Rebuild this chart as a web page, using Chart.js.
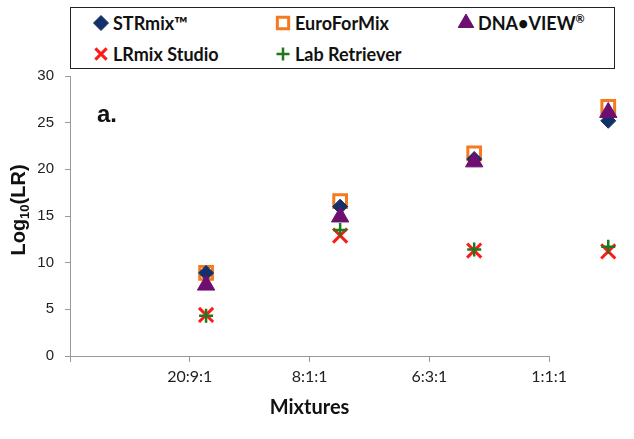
<!DOCTYPE html>
<html>
<head>
<meta charset="utf-8">
<script src="https://cdn.jsdelivr.net/npm/chart.js@4"></script>
<style>
    html, body { margin: 0; padding: 0; background: #fff; }
    #wrap { position: relative; width: 634px; height: 439px; }
    #legend {
        position: absolute; left: 70px; top: 7px; width: 545px; height: 62px;
        box-sizing: border-box; border: 1.5px solid #222; background: #fff;
        font-family: Lato, "Liberation Sans", sans-serif; font-weight: bold; font-size: 18px; color: #111;
    }
    .item { position: absolute; white-space: nowrap; }
    .item canvas { position: absolute; left: -10px; top: -10px; }
    .item span { position: absolute; left: 12px; top: -12px; line-height: 24px; }
    sup { font-size: 11px; vertical-align: 7px; line-height: 0; }
</style>
</head>
<body>
<div id="wrap">
    <canvas id="chart" width="634" height="439"></canvas>
    <div id="legend"></div>
</div>
<script>
// Chart data
const categories = ['20:9:1', '8:1:1', '6:3:1', '1:1:1'];
const strmix = [8.9, 16.0, 21.1, 25.2];
const euroForMix = [8.9, 16.6, 21.7, 26.7];
const dnaView = [7.6, 14.9, 20.8, 26.1];
const lrmixStudio = [4.4, 12.9, 11.3, 11.2];
const labRetriever = [4.3, 13.5, 11.4, 11.7];
const yTicks = [0, 5, 10, 15, 20, 25, 30];

// Series look (order: lower is drawn on top)
const series = [
    { label: 'STRmix\u2122', data: strmix, style: 'rectRot', color: '#14306a', fill: '#14306a', radius: 7.5, width: 1, order: 4, col: 0, row: 0, lr: 7.5 },
    { label: 'EuroForMix', data: euroForMix, style: 'rect', color: '#f57a1f', fill: '#ffffff', radius: 9, width: 3, order: 5, col: 1, row: 0, lr: 8 },
    { label: 'DNA\u2022VIEW', sup: '\u00ae', data: dnaView, style: 'triangle', color: '#6c0f70', fill: '#6c0f70', radius: 10, width: 1, order: 3, col: 2, row: 0, lr: 9 },
    { label: 'LRmix Studio', data: lrmixStudio, style: 'crossRot', color: '#ff1a1a', fill: '#ff1a1a', radius: 10, width: 3, order: 2, col: 0, row: 1, lr: 8 },
    { label: 'Lab Retriever', data: labRetriever, style: 'cross', color: '#1c7a1c', fill: '#1c7a1c', radius: 7, width: 2.5, order: 1, col: 1, row: 1, lr: 6.5 }
];

const legendCols = [30, 212, 395];
const legendRows = [15, 46];

function buildDatasets() {
    return series.map(s => ({
        label: s.label,
        data: s.data.map((v, i) => ({ x: i + 1, y: v })),
        xAxisID: 'xd',
        pointStyle: s.style,
        pointRadius: s.radius,
        pointHoverRadius: s.radius,
        pointBorderWidth: s.width,
        pointBorderColor: s.color,
        pointBackgroundColor: s.fill,
        order: s.order,
        clip: false
    }));
}

// Axis line, axis titles and panel tag
const extrasPlugin = {
    id: 'extras',
    afterDraw(chart) {
        const ctx = chart.ctx;
        const x = chart.scales.x;
        const area = chart.chartArea;
        const x0 = x.getPixelForValue(0);
        const x1 = x.getPixelForValue(categories.length);
        ctx.save();
        ctx.strokeStyle = '#999';
        ctx.lineWidth = 1;
        ctx.beginPath();
        ctx.moveTo(x0, area.bottom + 0.5);
        ctx.lineTo(x1, area.bottom + 0.5);
        ctx.stroke();

        // x title
        ctx.fillStyle = '#111';
        ctx.font = 'bold 20px Lato, "Liberation Sans", sans-serif';
        ctx.textAlign = 'center';
        ctx.textBaseline = 'middle';
        ctx.fillText('Mixtures', (x0 + x1) / 2, 408);

        // y title with subscript
        ctx.translate(18, 210);
        ctx.rotate(-Math.PI / 2);
        const big = 'bold 20px "Liberation Sans", Arial, sans-serif';
        const small = 'bold 13px "Liberation Sans", Arial, sans-serif';
        ctx.textAlign = 'left';
        ctx.textBaseline = 'alphabetic';
        ctx.font = big;
        const w1 = ctx.measureText('Log').width;
        const w3 = ctx.measureText('(LR)').width;
        ctx.font = small;
        const w2 = ctx.measureText('10').width;
        let px = -(w1 + w2 + w3) / 2;
        ctx.font = big;
        ctx.fillText('Log', px, 7);
        px += w1;
        ctx.font = small;
        ctx.fillText('10', px, 11);
        px += w2;
        ctx.font = big;
        ctx.fillText('(LR)', px, 7);
        ctx.restore();

        // panel tag
        ctx.save();
        ctx.fillStyle = '#111';
        ctx.font = 'bold 24px "Liberation Sans", Arial, sans-serif';
        ctx.textAlign = 'left';
        ctx.textBaseline = 'alphabetic';
        ctx.fillText('a.', area.left + 27, area.top + 46);
        ctx.restore();
    }
};

function buildLegend() {
    const box = document.getElementById('legend');
    series.forEach(s => {
        const item = document.createElement('div');
        item.className = 'item';
        item.style.left = legendCols[s.col] + 'px';
        item.style.top = legendRows[s.row] + 'px';
        const c = document.createElement('canvas');
        c.width = 20;
        c.height = 20;
        const cx = c.getContext('2d');
        cx.fillStyle = s.fill;
        cx.strokeStyle = s.color;
        cx.lineWidth = s.width;
        Chart.helpers.drawPoint(cx, { pointStyle: s.style, radius: s.lr, borderWidth: s.width, rotation: 0 }, 10, 10);
        const t = document.createElement('span');
        t.textContent = s.label;
        if (s.sup) {
            const sp = document.createElement('sup');
            sp.textContent = s.sup;
            t.appendChild(sp);
        }
        item.appendChild(c);
        item.appendChild(t);
        box.appendChild(item);
    });
}

function initializeChart() {
    new Chart(document.getElementById('chart'), {
        type: 'scatter',
        data: { datasets: buildDatasets() },
        plugins: [extrasPlugin],
        options: {
            responsive: false,
            animation: false,
            layout: { padding: { top: 76, right: 9, left: 0, bottom: 0 } },
            plugins: {
                legend: { display: false },
                tooltip: { enabled: false }
            },
            scales: {
                xd: {
                    type: 'linear',
                    position: 'bottom',
                    display: false,
                    min: -0.015,
                    max: 4.095
                },
                x: {
                    type: 'linear',
                    position: 'bottom',
                    min: 0,
                    max: 4.6,
                    afterBuildTicks: scale => {
                        scale.ticks = [0, 1, 2, 3, 4].map(v => ({ value: v }));
                    },
                    afterFit: scale => { scale.height = 83; },
                    border: { display: false },
                    grid: { drawOnChartArea: false, drawTicks: true, tickLength: 6, color: '#999' },
                    ticks: {
                        padding: 5,
                        maxRotation: 0,
                        autoSkip: false,
                        color: '#222',
                        font: { family: 'Lato, "Liberation Sans", sans-serif', size: 16 },
                        callback: v => categories[v - 1] || ''
                    }
                },
                y: {
                    min: 0,
                    max: 30,
                    afterBuildTicks: scale => {
                        scale.ticks = yTicks.map(v => ({ value: v }));
                    },
                    afterFit: scale => { scale.width = 70; },
                    border: { display: true, color: '#999', width: 1 },
                    grid: { drawOnChartArea: false, drawTicks: true, tickLength: 5, color: '#999' },
                    ticks: {
                        padding: 11,
                        color: '#222',
                        font: { family: '"Liberation Sans", Arial, sans-serif', size: 15 }
                    }
                }
            }
        }
    });
}

document.addEventListener('DOMContentLoaded', () => {
    initializeChart();
    buildLegend();
});
</script>
</body>
</html>
